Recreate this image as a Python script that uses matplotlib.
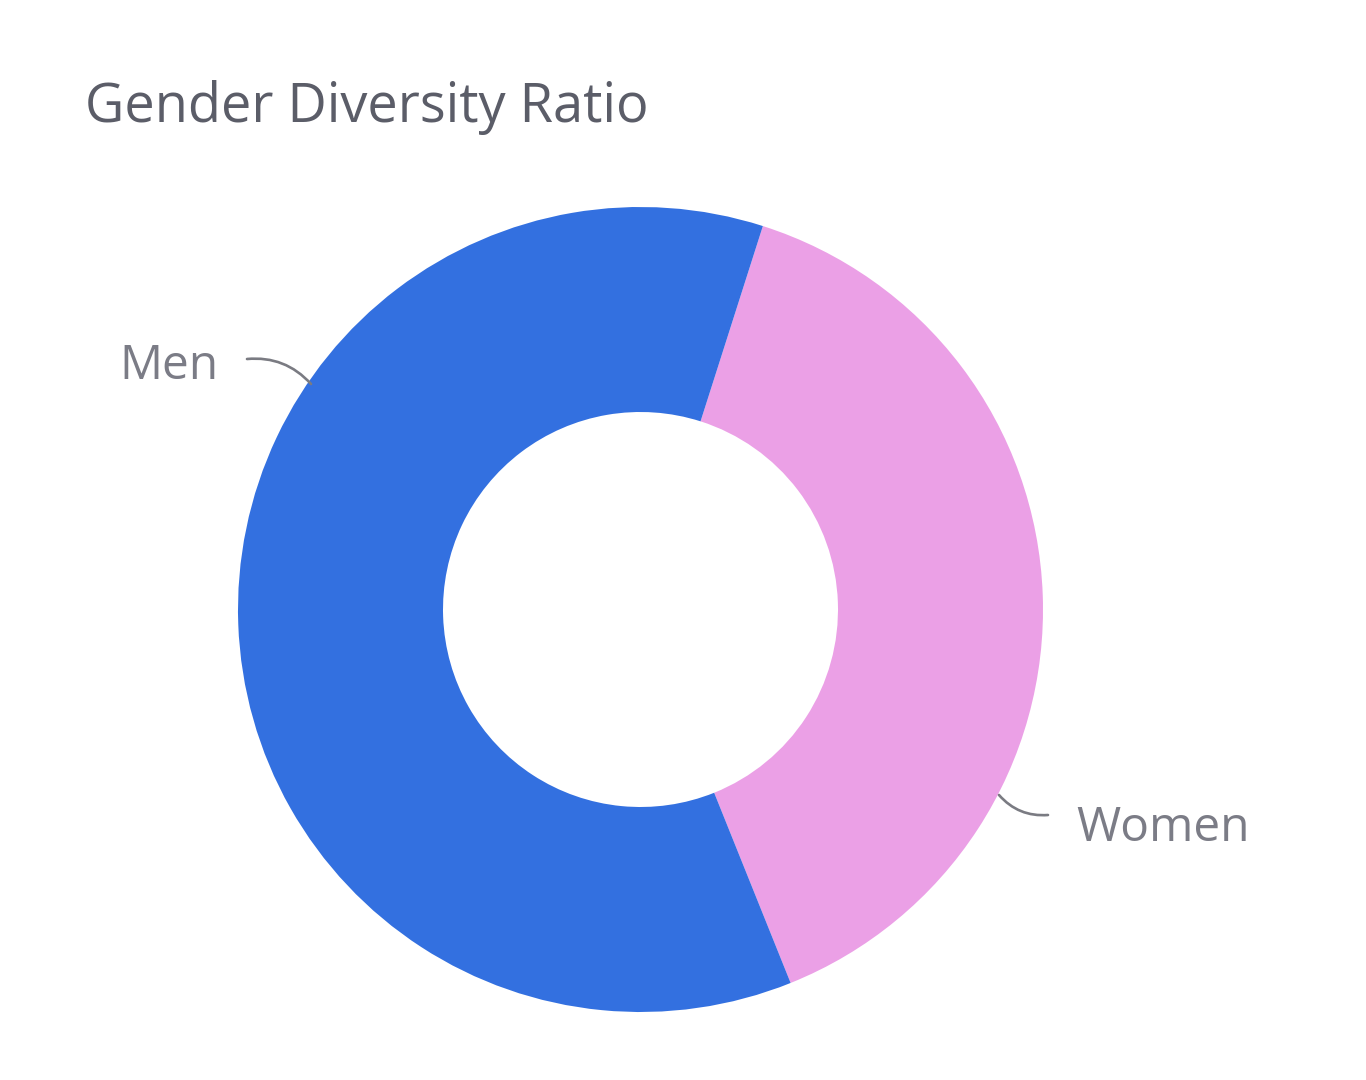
import matplotlib
matplotlib.use("Agg")
import matplotlib.pyplot as plt

categories = ["Women", "Men"]
values = [39, 61]
colors = ["#EBA0E6", "#3370E0"]
title = "Gender Diversity Ratio"

W, H = 1366, 1080
fig = plt.figure(figsize=(W / 100, H / 100), dpi=100)
ax = fig.add_axes([0, 0, 1, 1])
ax.set_xlim(0, W)
ax.set_ylim(0, H)
ax.set_aspect("equal")
ax.axis("off")

cx, cy, R = 640.5, H - 609.5, 402.5
ax.pie(values, colors=colors, startangle=72.3, counterclock=False,
       center=(cx, cy), radius=R,
       wedgeprops=dict(width=205, linewidth=0))
ax.set_xlim(0, W)
ax.set_ylim(0, H)

font = "Open Sans"
ax.text(85, H - 122, title, fontsize=39, color="#5B5D68", family=font,
        ha="left", va="baseline")

lc = "#7A7B82"
# Men label and leader
ax.text(119, H - 379, categories[1], fontsize=34.5, color="#7B7C86",
        family=font, ha="left", va="baseline")
ax.annotate("", xy=(311, H - 384), xytext=(247, H - 359),
            arrowprops=dict(arrowstyle="-", color=lc, lw=1.9,
                            connectionstyle="arc3,rad=-0.25",
                            shrinkA=0, shrinkB=0))
# Women label and leader
ax.text(1076, H - 841, categories[0], fontsize=34.5, color="#7B7C86",
        family=font, ha="left", va="baseline")
ax.annotate("", xy=(1048, H - 815), xytext=(999, H - 795),
            arrowprops=dict(arrowstyle="-", color=lc, lw=1.9,
                            connectionstyle="arc3,rad=0.25",
                            shrinkA=0, shrinkB=0))

fig.savefig("out.png", dpi=100, facecolor="white")
